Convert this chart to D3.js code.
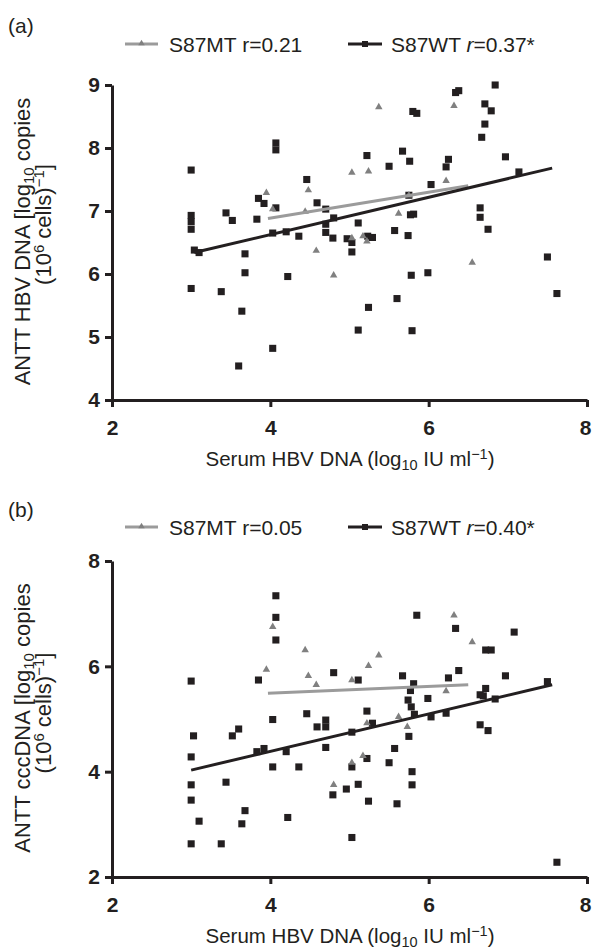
<!DOCTYPE html>
<html>
<head>
<meta charset="utf-8">
<script src="https://cdnjs.cloudflare.com/ajax/libs/d3/7.8.5/d3.min.js"></script>
<style>
body { margin: 0; background: #fff; }
svg text { font-family: "Liberation Sans", Arial, Helvetica, sans-serif; fill: #231f20; }
</style>
</head>
<body>
<svg id="chart" width="593" height="947"></svg>
<script>

// ---- panel (a): ANTT HBV DNA ----
var xTicks = [2, 4, 6, 8];
var yTicksA = [4, 5, 6, 7, 8, 9];

var wtA = [
    [3.00, 7.65], [4.07, 8.08], [4.07, 7.97], [4.46, 7.50], [3.85, 7.20], [3.92, 7.12], [4.07, 7.05],
    [4.59, 7.13], [4.70, 7.03], [4.80, 6.89], [4.70, 6.79], [4.70, 6.66], [4.79, 6.57], [3.44, 6.97],
    [3.52, 6.85], [3.83, 6.87], [3.00, 6.93], [3.00, 6.83], [3.00, 6.71], [4.03, 6.65], [4.20, 6.67],
    [4.36, 6.60], [3.04, 6.38], [3.10, 6.34], [3.68, 6.32],
    [6.34, 8.88], [6.38, 8.91], [6.84, 9.00], [6.71, 8.70], [6.79, 8.59], [5.80, 8.58], [5.85, 8.55],
    [6.71, 8.38], [6.67, 8.17], [5.22, 7.88], [5.67, 7.95], [5.76, 7.79], [5.50, 7.71], [6.25, 7.82],
    [6.22, 7.70], [6.97, 7.86], [7.14, 7.62], [6.03, 7.42], [5.75, 7.25], [6.65, 7.05], [6.65, 6.90],
    [6.75, 6.71], [5.77, 6.94], [5.81, 6.95], [5.11, 6.81], [5.57, 6.69], [5.74, 6.61], [4.97, 6.56],
    [5.23, 6.60], [5.29, 6.58], [5.03, 6.50], [5.03, 6.35], [7.50, 6.27],
    [3.68, 6.02], [4.22, 5.96], [3.00, 5.77], [3.38, 5.72], [3.64, 5.41], [4.03, 4.82], [3.60, 4.54],
    [5.78, 5.98], [5.99, 6.02], [5.60, 5.61], [5.24, 5.47], [5.11, 5.11], [5.79, 5.10], [7.62, 5.69]
];
var mtA = [
    [3.95, 7.29], [4.48, 7.33], [4.03, 7.03], [4.44, 6.99], [4.58, 6.37], [5.37, 8.65], [6.32, 8.67],
    [5.03, 7.61], [5.24, 7.63], [6.22, 7.48], [5.62, 6.96], [5.03, 6.57], [5.17, 6.60], [5.22, 6.52],
    [5.75, 7.25], [4.80, 5.98], [6.55, 6.18]
];
var fitMtA = [[3.97, 6.88], [6.50, 7.40]];
var fitWtA = [[3.04, 6.34], [7.56, 7.68]];

// ---- panel (b): ANTT cccDNA ----
var yTicksB = [2, 4, 6, 8];

var wtB = [
    [4.07, 7.34], [4.07, 6.93], [4.07, 6.50], [3.00, 5.72], [3.85, 5.74], [4.80, 5.88], [4.46, 5.10],
    [4.03, 4.99], [4.70, 4.98], [4.70, 4.85], [4.59, 4.85], [4.70, 4.46],
    [5.85, 6.97], [6.34, 6.72], [7.08, 6.65], [6.72, 6.31], [6.79, 6.31], [5.11, 5.74], [5.67, 5.82],
    [5.81, 5.67], [5.77, 5.54], [5.74, 5.36], [5.78, 5.23], [5.82, 5.09], [5.99, 5.39], [6.25, 5.78],
    [6.38, 5.92], [6.97, 5.82], [6.72, 5.58], [6.65, 5.46], [6.69, 5.44], [6.84, 5.38], [7.50, 5.71],
    [5.22, 5.15], [6.03, 5.04], [6.22, 5.11],
    [3.03, 4.68], [3.00, 4.28], [3.00, 3.75], [3.00, 3.46], [3.00, 2.63], [3.10, 3.06], [3.38, 2.63],
    [3.44, 3.80], [3.52, 4.68], [3.60, 4.81], [3.64, 3.01], [3.68, 3.26], [3.83, 4.38], [3.92, 4.44],
    [4.03, 4.09], [4.20, 4.38], [4.22, 3.13], [4.36, 4.09], [4.79, 3.56], [4.96, 3.67],
    [5.29, 4.92], [5.03, 4.75], [6.65, 4.89], [6.75, 4.78], [5.75, 4.67], [5.57, 4.44], [5.22, 4.25],
    [5.50, 4.17], [5.03, 4.09], [5.79, 4.00], [5.79, 3.75], [5.11, 3.76], [5.24, 3.44], [5.60, 3.39],
    [5.03, 2.75], [7.62, 2.28]
];
var mtB = [
    [4.03, 6.75], [4.44, 6.31], [3.95, 5.94], [4.48, 5.82], [4.58, 5.65], [6.32, 6.97], [6.55, 6.46],
    [5.37, 6.21], [5.24, 6.01], [5.03, 5.74], [6.22, 5.53], [5.62, 5.04], [4.80, 3.75], [5.22, 4.92],
    [5.73, 4.85], [5.03, 4.17], [5.17, 4.30]
];
var fitMtB = [[3.97, 5.49], [6.50, 5.65]];
var fitWtB = [[3.00, 4.03], [7.56, 5.65]];

var BLACK = "#231f20";
var GREY_PT = "#808080";
var GREY_LN = "#9b9b9b";

var svg = d3.select("#chart");

dibujaPanel({
    letra: "(a)", letraY: 33,
    leyendaY: 44, rMt: "0.21", rWt: "0.37*",
    top: 85, bottom: 400,
    yDom: [4, 9], yTicks: yTicksA,
    wt: wtA, mt: mtA, fitMt: fitMtA, fitWt: fitWtA,
    titulo1: ["ANTT HBV DNA [log", "10", " copies"], desp2: -18
});

dibujaPanel({
    letra: "(b)", letraY: 517,
    leyendaY: 527, rMt: "0.05", rWt: "0.40*",
    top: 561, bottom: 877,
    yDom: [2, 8], yTicks: yTicksB,
    wt: wtB, mt: mtB, fitMt: fitMtB, fitWt: fitWtB,
    titulo1: ["ANTT cccDNA [log", "10", " copies"], desp2: -6
});


function dibujaPanel(cfg) {
    var x = d3.scaleLinear().domain([2, 8]).range([112, 587]);
    var y = d3.scaleLinear().domain(cfg.yDom).range([cfg.bottom, cfg.top]);
    var g = svg.append("g");

    // panel letter
    g.append("text").attr("x", 8).attr("y", cfg.letraY)
        .style("font-size", "21px").text(cfg.letra);

    // legend
    var ly = cfg.leyendaY;
    g.append("line").attr("x1", 125).attr("x2", 158).attr("y1", ly).attr("y2", ly)
        .attr("stroke", GREY_LN).attr("stroke-width", 3);
    g.append("path").attr("d", d3.symbol().type(d3.symbolTriangle).size(18)())
        .attr("transform", "translate(141.5," + (ly - 0.5) + ")").attr("fill", GREY_PT);
    g.append("text").attr("x", 169).attr("y", ly + 8).style("font-size", "21px")
        .text("S87MT r=" + cfg.rMt);

    g.append("line").attr("x1", 348).attr("x2", 382).attr("y1", ly).attr("y2", ly)
        .attr("stroke", BLACK).attr("stroke-width", 3);
    g.append("path").attr("d", d3.symbol().type(d3.symbolSquare).size(36)())
        .attr("transform", "translate(365," + ly + ")").attr("fill", BLACK);
    var t = g.append("text").attr("x", 391).attr("y", ly + 8).style("font-size", "21px");
    t.append("tspan").text("S87WT ");
    t.append("tspan").style("font-style", "italic").text("r");
    t.append("tspan").text("=" + cfg.rWt);

    // axes
    var ax = g.append("g").attr("transform", "translate(0," + cfg.bottom + ")")
        .call(d3.axisBottom(x).tickValues(xTicks).tickFormat(d3.format("d"))
            .tickSize(7).tickSizeOuter(0).tickPadding(13));
    var ay = g.append("g").attr("transform", "translate(112,0)")
        .call(d3.axisLeft(y).tickValues(cfg.yTicks).tickFormat(d3.format("d"))
            .tickSize(7).tickSizeOuter(0).tickPadding(5));
    [ax, ay].forEach(function (a) {
        a.select(".domain").attr("stroke", BLACK).attr("stroke-width", 3);
        a.selectAll(".tick line").attr("stroke", BLACK).attr("stroke-width", 3);
        a.selectAll(".tick text").attr("fill", BLACK)
            .style("font-size", "21px").style("font-weight", "bold")
            .style("font-family", "'Liberation Sans', Arial, sans-serif");
    });
    ax.selectAll(".tick text").filter(function (d) { return d == 8; }).attr("dx", -2);

    // x axis title
    var xt = g.append("text").attr("x", 350).attr("y", cfg.bottom + 66)
        .attr("text-anchor", "middle").style("font-size", "20.5px");
    xt.append("tspan").text("Serum HBV DNA (log");
    xt.append("tspan").attr("dy", 4).style("font-size", "14.5px").text("10");
    xt.append("tspan").attr("dy", -4).text(" IU ml");
    xt.append("tspan").attr("dy", -7).style("font-size", "14.5px").text("\u22121");
    xt.append("tspan").attr("dy", 7).text(")");

    // y axis title, two lines
    var cy = (cfg.top + cfg.bottom) / 2;
    var yt1 = g.append("text").attr("transform", "translate(30," + (cy - 1) + ") rotate(-90)")
        .attr("text-anchor", "middle").style("font-size", "22px");
    yt1.append("tspan").text(cfg.titulo1[0]);
    yt1.append("tspan").attr("dy", 4).style("font-size", "15px").text(cfg.titulo1[1]);
    yt1.append("tspan").attr("dy", -4).text(cfg.titulo1[2]);

    var yt2 = g.append("text").attr("transform", "translate(51," + (cy + cfg.desp2) + ") rotate(-90)")
        .attr("text-anchor", "middle").style("font-size", "22px");
    yt2.append("tspan").text("(10");
    yt2.append("tspan").attr("dy", -7).style("font-size", "15px").text("6");
    yt2.append("tspan").attr("dy", 7).text(" cells)");
    yt2.append("tspan").attr("dy", -7).style("font-size", "15px").text("\u22121");
    yt2.append("tspan").attr("dy", 7).text("]");

    // points
    var sq = d3.symbol().type(d3.symbolSquare).size(50);
    g.append("g").selectAll("path").data(cfg.wt).enter().append("path")
        .attr("d", sq)
        .attr("transform", function (d) { return "translate(" + x(d[0]) + "," + y(d[1]) + ")"; })
        .attr("fill", BLACK);

    var tri = d3.symbol().type(d3.symbolTriangle).size(24);
    g.append("g").selectAll("path").data(cfg.mt).enter().append("path")
        .attr("d", tri)
        .attr("transform", function (d) { return "translate(" + x(d[0]) + "," + y(d[1]) + ")"; })
        .attr("fill", GREY_PT);

    // regression lines
    var linea = d3.line().x(function (d) { return x(d[0]); }).y(function (d) { return y(d[1]); });
    g.append("path").datum(cfg.fitMt).attr("d", linea)
        .attr("fill", "none").attr("stroke", GREY_LN).attr("stroke-width", 3);
    g.append("path").datum(cfg.fitWt).attr("d", linea)
        .attr("fill", "none").attr("stroke", BLACK).attr("stroke-width", 3);
}
</script>
</body>
</html>
